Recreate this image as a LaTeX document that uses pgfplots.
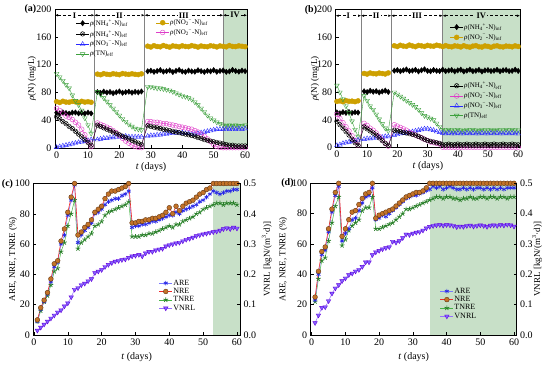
\documentclass[border=0pt]{standalone}
\usepackage{fontspec}
\setmainfont{Liberation Serif}
\usepackage{pgfplots}
\pgfplotsset{compat=1.18}
\usepackage{pgfplotstable}
\usetikzlibrary{arrows.meta}

\newcommand{\tf}{\fontsize{10}{11}\selectfont}
\newcommand{\lf}{\fontsize{10}{12}\selectfont}
\newcommand{\yf}{\fontsize{9}{10}\selectfont}
\newcommand{\legf}{\fontsize{7}{8}\selectfont}
\newcommand{\legg}{\fontsize{8}{9}\selectfont}
\newcommand{\ion}[2]{\textsubscript{#1}\kern-0.3pt\textsuperscript{#2}}

\definecolor{cgold}{RGB}{205,160,0}
\definecolor{cpink}{RGB}{222,60,200}
\definecolor{cblue}{RGB}{40,40,255}
\definecolor{cgreen}{RGB}{60,160,60}
\definecolor{cshade}{RGB}{200,224,200}
\definecolor{cgray}{RGB}{130,130,130}
\definecolor{areM}{RGB}{40,40,230}
\definecolor{areL}{RGB}{120,120,255}
\definecolor{nreF}{RGB}{195,115,40}
\definecolor{nreD}{RGB}{100,55,20}
\definecolor{nreL}{RGB}{240,40,40}
\definecolor{tnM}{RGB}{40,125,40}
\definecolor{tnL}{RGB}{70,180,70}
\definecolor{vnF}{RGB}{130,100,255}
\definecolor{vnD}{RGB}{100,0,220}
\definecolor{vnL}{RGB}{150,110,255}

\pgfplotsset{
 panel/.style={scale only axis, clip=false, axis on top,
   axis line style={line width=0.6pt}, tick align=inside, major tick length=3pt,
   every tick/.style={black, line width=0.5pt},
   tick label style={font=\tf}, /pgf/number format/assume math mode=true,
   xtick={0,10,...,60}, xtick pos=bottom},
 legax/.style={scale only axis, hide axis, xmin=0,xmax=1,ymin=0,ymax=1,
   legend cell align=left,
   legend style={draw=none, fill=none, inner sep=0pt, outer sep=0pt,
     nodes={inner sep=0.8pt}, /tikz/every even column/.append style={column sep=3pt}},
   legend image code/.code={\draw[#1,mark repeat=2,mark phase=2] plot coordinates {(0pt,0pt) (6.5pt,0pt) (13pt,0pt)};}},
 NHi/.style={black, line width=0.4pt, mark=diamond*, mark size=2.7pt},
 NOi/.style={cgold, line width=0.4pt, mark=*, mark size=2.5pt},
 NHe/.style={black, line width=0.4pt, mark=otimes, mark size=2.3pt},
 NOe/.style={cpink, line width=0.4pt, mark=o, mark size=2.4pt},
 N3e/.style={cblue, line width=0.4pt, mark=triangle, mark size=2.7pt},
 TNe/.style={cgreen, line width=0.4pt, mark=triangle, mark size=2.7pt, mark options={rotate=180}},
 ARE/.style={areL, line width=0.5pt, mark=asterisk, mark size=2.3pt, mark options={draw=areM, line width=0.7pt}},
 NRE/.style={nreL, line width=0.6pt, mark=*, mark size=2.4pt, mark options={fill=nreF, draw=nreD, line width=0.4pt}},
 TNRE/.style={tnL, line width=0.5pt, mark=star, mark size=2.5pt, mark options={draw=tnM, line width=0.7pt}},
 VNRL/.style={vnL, line width=0.5pt, mark=triangle*, mark size=2.6pt, mark options={rotate=180, fill=vnF, draw=vnD, line width=0.4pt}},
}

\pgfplotstableread{
t Ni Oi Ne Oe Te TN
0 50.8 66.8 45 57 1 107
1 49.6 65.5 42 54 2 102
2 51.3 67.3 38 50 3 97
3 50.2 66.1 35 46 4 91
4 49.4 65.9 31 44 5 86
5 50.9 67.0 28 41 6 76
6 51.1 66.4 24 37 7 68
7 49.8 65.6 20 33 8 62
8 50.4 67.2 16 27 9 54
9 49.7 66.0 12 19 10 43
10 50.9 66.6 8 10 11 33
11 49.8 65.8 4 2 12 21
12 nan nan nan nan nan nan
13 80.5 106.3 33 36 12 81
14 79.3 105.4 31 34 13 77
15 81.2 107.0 29 32 14 72
16 79.8 106.1 27 30 14 67
17 80.6 105.7 25 28 15 62
18 78.9 106.9 23 25 15 57
19 80.2 106.2 21 22 16 52
20 81.4 105.5 19 18 16 47
21 79.5 107.1 17 14 16 42
22 80.3 106.4 15 10 17 38
23 81.0 105.9 13 7 16 34
24 79.6 106.8 11 4 16 31
25 80.8 106.0 9 2 16 28
26 80.1 105.6 7 1 16 27
27 81.3 106.7 5 0.5 16 26
28 nan nan nan nan nan nan
29 110.4 146.5 32 38 17 88
30 111.2 145.3 31 38 18 88
31 109.6 147.2 30 37 18 87
32 110.8 146.0 29 37 19 86
33 112.1 145.6 28 36 19 86
34 109.9 147.5 27 35 20 85
35 110.5 146.2 26 35 20 84
36 111.6 145.1 25 34 21 83
37 109.3 146.9 24 33 21 81
38 110.9 146.3 23 32 22 79
39 112.3 145.5 22 31 22 77
40 110.1 147.0 21 30 22 75
41 109.5 146.1 20 29 21 74
42 111.4 145.8 19 28 21 72
43 110.2 147.3 18 27 20 70
44 109.8 146.4 17 25 20 66
45 111.9 145.2 15 23 21 62
46 110.6 146.8 14 20 22 57
47 109.4 146.0 12 17 23 52
48 111.1 145.7 11 13 24 47
49 110.3 147.1 10 9 25 43
50 112.0 146.5 9 5 26 40
51 109.7 145.4 8 2 27 37
52 110.9 146.9 7 1 27 35
53 111.5 146.2 6 0.5 27 33
54 109.6 145.6 5 0.5 28 32
55 110.2 147.4 4 0.5 27 33
56 112.4 146.1 4 0.5 28 32
57 110.8 145.9 3 0.5 27 33
58 109.9 147.0 3 0.5 28 32
59 111.3 146.3 3 0.5 27 32
60 110.5 145.8 3 0.5 28 33
}\dataA

\pgfplotstableread{
t Ni Oi Ne Oe Te TN
0 50.8 66.8 38 48 3 90
1 49.6 67.5 33 42 4 80
2 51.3 66.3 28 36 6 70
3 50.2 67.9 23 30 7 60
4 51.4 66.9 18 24 8 50
5 50.1 67.2 12 17 9 38
6 51.2 66.4 7 10 10 26
7 50.6 67.6 3 3 11 16
8 nan nan nan nan nan nan
9 81.5 107.3 30 35 12 75
10 80.3 106.4 27 32 13 68
11 82.2 108.0 24 28 13 60
12 80.8 107.1 21 25 14 55
13 81.6 106.7 18 21 14 48
14 79.9 107.9 14 16 15 41
15 81.2 107.2 10 11 15 34
16 82.4 106.5 6 6 16 28
17 80.5 108.1 3 2 16 24
18 nan nan nan nan nan nan
19 111.4 147.5 25 33 18 80
20 112.2 146.3 24 31 19 77
21 110.6 148.2 23 29 20 74
22 111.8 147.0 22 27 21 71
23 113.1 146.6 21 25 21 68
24 110.9 148.5 20 22 22 65
25 111.5 147.2 19 20 23 62
26 112.6 146.1 18 18 24 59
27 110.3 147.9 16 16 25 55
28 111.9 147.3 14 14 26 50
29 113.3 146.5 12 12 27 46
30 111.1 148.0 10 10 27 44
31 110.5 147.1 9 8 26 42
32 112.4 146.8 8 7 25 40
33 111.2 148.3 7 6 23 35
34 110.8 147.4 6 5 22 30
35 112.9 146.2 4 0.5 21 26
36 110.7 147.7 4 0.5 20 25
37 111.6 146.4 5 0.5 21 26
38 112.3 145.9 4 0.5 20 25
39 110.4 147.3 4 0.5 20 25
40 111.8 146.8 5 0.5 21 26
41 112.7 145.7 4 0.5 20 25
42 110.2 147.5 4 0.5 20 24
43 111.4 146.2 5 0.5 21 26
44 112.9 145.4 4 0.5 20 25
45 110.6 146.9 4 0.5 21 26
46 111.2 147.6 5 0.5 20 25
47 112.5 146.0 4 0.5 20 24
48 110.1 145.6 4 0.5 21 26
49 111.7 147.2 5 0.5 20 25
50 112.2 146.5 4 0.5 20 25
51 110.8 145.3 4 0.5 21 26
52 111.3 146.8 5 0.5 20 24
53 112.6 147.4 4 0.5 21 26
54 110.5 146.1 4 0.5 20 25
55 111.9 145.7 5 0.5 20 25
56 112.3 147.0 4 0.5 21 26
57 110.7 146.6 4 0.5 20 25
58 111.1 145.9 5 0.5 21 26
59 112.8 147.3 4 0.5 20 25
60 111.0 146.4 4 0.5 20 25
}\dataB

\pgfplotstableread{
t ARE NRE TNRE VNRL
1 9 10 9 0.015
2 17 18 16 0.025
3 22 23 22 0.035
4 27 28 26 0.045
5 35 37 33 0.055
6 45 47 42 0.065
7 48 49 44 0.075
8 60 62 55 0.082
9 66 70 61 0.095
10 79 81 72 0.105
11 89 91 80 0.125
12 99 100 89 0.150
13 61 66 57 0.155
14 66 68 61 0.165
15 69 71 63 0.170
16 71 73 65 0.178
17 74 76 67 0.185
18 80 81 72 0.205
19 81 83 73 0.210
20 83 85 75 0.215
21 86 90 79 0.225
22 88 93 81 0.232
23 89 95 82 0.238
24 90 95 83 0.243
25 90 96 84 0.245
26 92 97 85 0.248
27 93 98 86 0.250
28 95 100 88 0.255
29 71 74 65 0.260
30 72 74 65 0.262
31 72 75 65 0.265
32 73 75 66 0.260
33 73 76 66 0.270
34 74 76 67 0.275
35 75 77 67 0.275
36 75 77 68 0.280
37 76 78 69 0.283
38 77 79 70 0.285
39 78 81 71 0.293
40 79 84 72 0.297
41 79 80 71 0.300
42 81 85 73 0.303
43 80 82 73 0.305
44 82 85 75 0.310
45 83 87 76 0.315
46 84 88 77 0.318
47 85 89 78 0.322
48 86 91 80 0.327
49 88 93 81 0.330
50 89 94 83 0.333
51 91 96 84 0.335
52 93 97 85 0.338
53 95 100 86 0.340
54 94 100 87 0.342
55 93 100 87 0.345
56 94 100 86 0.350
57 95 100 87 0.353
58 95 100 87 0.350
59 96 100 87 0.355
60 96 100 86 0.352
}\dataC

\pgfplotstableread{
t ARE NRE TNRE VNRL
1 23 25 22 0.040
2 40 42 37 0.065
3 53 55 49 0.090
4 56 58 51 0.092
5 68 70 62 0.112
6 81 83 74 0.137
7 92 94 85 0.154
8 98 100 91 0.165
9 62 65 59 0.178
10 67 70 63 0.187
11 70 76 69 0.198
12 76 81 72 0.203
13 77 82 74 0.210
14 82 86 76 0.215
15 87 90 82 0.225
16 91 93 84 0.240
17 92 94 84 0.240
18 97 100 91 0.264
19 76 77 70 0.273
20 77 79 70 0.278
21 79 80 71 0.283
22 78 81 72 0.287
23 80 82 73 0.290
24 82 83 74 0.308
25 84 85 76 0.305
26 86 87 78 0.310
27 88 89 80 0.320
28 90 91 83 0.332
29 91 92 83 0.330
30 92 93 84 0.335
31 92 94 85 0.338
32 93 94 86 0.340
33 94 95 87 0.345
34 95 97 88 0.352
35 96 100 89 0.357
36 98 100 90 0.360
37 97 100 91 0.362
38 98 100 91 0.363
39 96 100 90 0.361
40 97 100 91 0.363
41 98 100 91 0.362
42 97 100 90 0.360
43 96 100 90 0.356
44 96 100 89 0.358
45 97 100 90 0.357
46 96 100 90 0.360
47 97 100 91 0.361
48 96 100 90 0.358
49 97 100 90 0.360
50 97 100 91 0.362
51 96 100 91 0.360
52 97 100 90 0.357
53 96 100 91 0.361
54 97 100 91 0.362
55 96 100 90 0.360
56 97 100 91 0.363
57 96 100 91 0.361
58 97 100 90 0.364
59 97 100 91 0.362
60 97 100 91 0.358
}\dataD

\tikzset{phase/.style={densely dashed, line width=0.5pt, {Latex[length=3pt,width=2.5pt]}-{Latex[length=3pt,width=2.5pt]}},
 plab/.style={font=\fontsize{8.5}{9}\selectfont\bfseries, inner sep=1.2pt}}

\begin{document}
\begin{tikzpicture}[x=1pt,y=1pt]
\useasboundingbox (0,0) rectangle (550,365);

% ---------------- (a) ----------------
\begin{axis}[panel, at={(55pt,217pt)}, anchor=south west, width=192pt, height=139pt,
  xmin=-0.5, xmax=60.6, ymin=0, ymax=200, ytick={0,40,...,200}, ytick pos=left]
\fill[cshade] (axis cs:53,0) rectangle (axis cs:60.6,200);
\draw[cgray, line width=0.5pt] (axis cs:12,0) -- (axis cs:12,200);
\draw[cgray, line width=0.5pt] (axis cs:28,0) -- (axis cs:28,200);
\draw[cgray, line width=0.5pt] (axis cs:53,0) -- (axis cs:53,200);
\draw[phase] (axis cs:-0.5,191) -- (axis cs:12,191);
\draw[phase] (axis cs:12,191) -- (axis cs:28,191);
\draw[phase] (axis cs:28,191) -- (axis cs:53,191);
\draw[phase] (axis cs:53,191) -- (axis cs:60.6,191);
\node[plab, fill=white] at (axis cs:5.75,191) {I};
\node[plab, fill=white] at (axis cs:20,191) {II};
\node[plab, fill=white] at (axis cs:40.5,191) {III};
\node[plab, fill=cshade] at (axis cs:56.8,191) {IV};
\addplot[NHi, unbounded coords=jump] table[x=t,y=Ni] {\dataA};
\addplot[NOi, unbounded coords=jump] table[x=t,y=Oi] {\dataA};
\addplot[TNe] table[x=t,y=TN] {\dataA};
\addplot[N3e] table[x=t,y=Te] {\dataA};
\addplot[NOe] table[x=t,y=Oe] {\dataA};
\addplot[NHe] table[x=t,y=Ne] {\dataA};
\node[rotate=90, font=\yf] at (axis description cs:-0.12,0.5) {\textit{ρ}(N) (mg/L)};
\node[font=\lf] at (axis description cs:0.5,-0.135) {\textit{t} (days)};
\end{axis}
\begin{axis}[legax, at={(55pt,217pt)}, anchor=south west, width=192pt, height=139pt,
  legend style={at={(axis description cs:0.109,0.93)}, anchor=north west, font=\legf, row sep=1.8pt}]
\addlegendimage{NHi}\addlegendentry{\textit{ρ}(NH\ion{4}{+}-N)\textsubscript{inf}}
\addlegendimage{NHe}\addlegendentry{\textit{ρ}(NH\ion{4}{+}-N)\textsubscript{eff}}
\addlegendimage{N3e}\addlegendentry{\textit{ρ}(NO\ion{3}{−}-N)\textsubscript{eff}}
\addlegendimage{TNe}\addlegendentry{\textit{ρ}(TN)\textsubscript{eff}}
\end{axis}
\begin{axis}[legax, at={(55pt,217pt)}, anchor=south west, width=192pt, height=139pt,
  legend style={at={(axis description cs:0.526,0.93)}, anchor=north west, font=\legf, row sep=1.8pt}]
\addlegendimage{NOi}\addlegendentry{\textit{ρ}(NO\ion{2}{−}-N)\textsubscript{inf}}
\addlegendimage{NOe}\addlegendentry{\textit{ρ}(NO\ion{2}{−}-N)\textsubscript{eff}}
\end{axis}

% ---------------- (b) ----------------
\begin{axis}[panel, at={(335.7pt,217.5pt)}, anchor=south west, width=184.3pt, height=138pt,
  xmin=-0.4, xmax=60.6, ymin=0, ymax=200, ytick={0,40,...,200}, ytick pos=left]
\fill[cshade] (axis cs:35,0) rectangle (axis cs:60.6,200);
\draw[cgray, line width=0.5pt] (axis cs:8,0) -- (axis cs:8,200);
\draw[cgray, line width=0.5pt] (axis cs:18,0) -- (axis cs:18,200);
\draw[cgray, line width=0.5pt] (axis cs:35,0) -- (axis cs:35,200);
\draw[phase] (axis cs:-0.4,191) -- (axis cs:8,191);
\draw[phase] (axis cs:8,191) -- (axis cs:18,191);
\draw[phase] (axis cs:18,191) -- (axis cs:35,191);
\draw[phase] (axis cs:35,191) -- (axis cs:60.6,191);
\node[plab, fill=white] at (axis cs:3.8,191) {I};
\node[plab, fill=white] at (axis cs:13,191) {II};
\node[plab, fill=white] at (axis cs:26.5,191) {III};
\node[plab, fill=cshade] at (axis cs:47.8,191) {IV};
\addplot[NHi, unbounded coords=jump] table[x=t,y=Ni] {\dataB};
\addplot[NOi, unbounded coords=jump] table[x=t,y=Oi] {\dataB};
\addplot[TNe] table[x=t,y=TN] {\dataB};
\addplot[N3e] table[x=t,y=Te] {\dataB};
\addplot[NOe] table[x=t,y=Oe] {\dataB};
\addplot[NHe] table[x=t,y=Ne] {\dataB};
\node[rotate=90, font=\yf] at (axis description cs:-0.112,0.5) {\textit{ρ}(N) (mg/L)};
\node[font=\lf] at (axis description cs:0.5,-0.135) {\textit{t} (days)};
\end{axis}
\begin{axis}[legax, at={(335.7pt,217.5pt)}, anchor=south west, width=184.3pt, height=138pt,
  legend style={at={(axis description cs:0.62,0.905)}, anchor=north west, font=\legf, row sep=1.8pt}]
\addlegendimage{NHi}\addlegendentry{\textit{ρ}(NH\ion{4}{+}-N)\textsubscript{inf}}
\addlegendimage{NOi}\addlegendentry{\textit{ρ}(NO\ion{2}{−}-N)\textsubscript{inf}}
\end{axis}
\begin{axis}[legax, at={(335.7pt,217.5pt)}, anchor=south west, width=184.3pt, height=138pt,
  legend style={at={(axis description cs:0.62,0.48)}, anchor=north west, font=\legf, row sep=1.8pt}]
\addlegendimage{NHe}\addlegendentry{\textit{ρ}(NH\ion{4}{+}-N)\textsubscript{eff}}
\addlegendimage{NOe}\addlegendentry{\textit{ρ}(NO\ion{2}{−}-N)\textsubscript{eff}}
\addlegendimage{N3e}\addlegendentry{\textit{ρ}(NO\ion{3}{−}-N)\textsubscript{eff}}
\addlegendimage{TNe}\addlegendentry{\textit{ρ}(TN)\textsubscript{eff}}
\end{axis}

% ---------------- (c) ----------------
\begin{axis}[panel, at={(33.3pt,30pt)}, anchor=south west, width=206.7pt, height=151.5pt,
  xmin=-0.2, xmax=60.9, ymin=0, ymax=100, ytick={0,20,...,100}, ytick pos=left]
\fill[cshade] (axis cs:53,0) rectangle (axis cs:60.9,100);
\addplot[TNRE] table[x=t,y=TNRE] {\dataC};
\addplot[ARE] table[x=t,y=ARE] {\dataC};
\addplot[NRE] table[x=t,y=NRE] {\dataC};
\node[rotate=90, font=\yf] at (axis description cs:-0.098,0.5) {ARE, NRE, TNRE (\%)};
\node[font=\lf] at (axis description cs:0.5,-0.145) {\textit{t} (days)};
\end{axis}
\begin{axis}[panel, at={(33.3pt,30pt)}, anchor=south west, width=206.7pt, height=151.5pt,
  xmin=-0.2, xmax=60.9, ymin=0, ymax=0.5, axis x line=none, axis y line*=right,
  ytick={0,0.1,0.2,0.3,0.4,0.5},
  yticklabel style={/pgf/number format/.cd, fixed, fixed zerofill, precision=1}]
\addplot[VNRL] table[x=t,y=VNRL] {\dataC};
\node[rotate=90, font=\yf] at (axis description cs:1.13,0.5) {VNRL [kgN/(m\textsuperscript{3}·d)]};
\end{axis}
\begin{axis}[legax, at={(33.3pt,30pt)}, anchor=south west, width=206.7pt, height=151.5pt,
  legend style={at={(axis description cs:0.608,0.37)}, anchor=north west, font=\legg, row sep=0pt}]
\addlegendimage{ARE}\addlegendentry{ARE}
\addlegendimage{NRE}\addlegendentry{NRE}
\addlegendimage{TNRE}\addlegendentry{TNRE}
\addlegendimage{VNRL}\addlegendentry{VNRL}
\end{axis}

% ---------------- (d) ----------------
\begin{axis}[panel, at={(310.7pt,30pt)}, anchor=south west, width=206pt, height=151.7pt,
  xmin=-0.3, xmax=60.8, ymin=0, ymax=100, ytick={0,20,...,100}, ytick pos=left]
\fill[cshade] (axis cs:35,0) rectangle (axis cs:60.8,100);
\addplot[TNRE] table[x=t,y=TNRE] {\dataD};
\addplot[ARE] table[x=t,y=ARE] {\dataD};
\addplot[NRE] table[x=t,y=NRE] {\dataD};
\node[rotate=90, font=\yf] at (axis description cs:-0.134,0.5) {ARE, NRE, TNRE (\%)};
\node[font=\lf] at (axis description cs:0.5,-0.145) {\textit{t} (days)};
\end{axis}
\begin{axis}[panel, at={(310.7pt,30pt)}, anchor=south west, width=206pt, height=151.7pt,
  xmin=-0.3, xmax=60.8, ymin=0, ymax=0.5, axis x line=none, axis y line*=right,
  ytick={0,0.1,0.2,0.3,0.4,0.5},
  yticklabel style={/pgf/number format/.cd, fixed, fixed zerofill, precision=1}]
\addplot[VNRL] table[x=t,y=VNRL] {\dataD};
\node[rotate=90, font=\yf] at (axis description cs:1.099,0.5) {VNRL [kgN/(m\textsuperscript{3}·d)]};
\end{axis}
\begin{axis}[legax, at={(310.7pt,30pt)}, anchor=south west, width=206pt, height=151.7pt,
  legend style={at={(axis description cs:0.628,0.316)}, anchor=north west, font=\legg, row sep=0pt}]
\addlegendimage{ARE}\addlegendentry{ARE}
\addlegendimage{NRE}\addlegendentry{NRE}
\addlegendimage{TNRE}\addlegendentry{TNRE}
\addlegendimage{VNRL}\addlegendentry{VNRL}
\end{axis}

% panel labels
\node[font=\fontsize{10}{11}\selectfont\bfseries] at (30.5,356) {(a)};
\node[font=\fontsize{10}{11}\selectfont\bfseries] at (311,355) {(b)};
\node[font=\fontsize{10}{11}\selectfont\bfseries] at (7.5,181) {(c)};
\node[font=\fontsize{10}{11}\selectfont\bfseries] at (287.5,182) {(d)};
\end{tikzpicture}
\end{document}
